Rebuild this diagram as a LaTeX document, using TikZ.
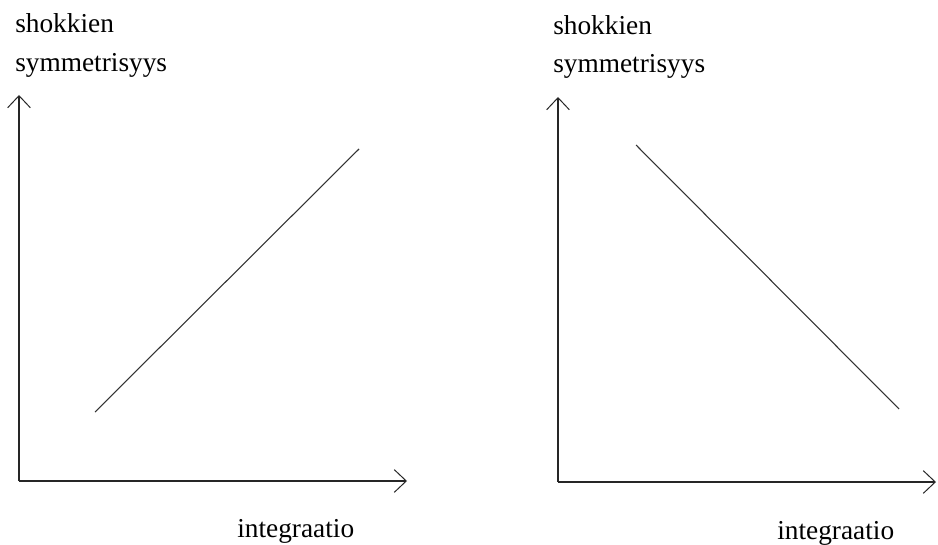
\documentclass[tikz,border=0pt]{standalone}
\usepackage{fontspec}
\setmainfont{Liberation Serif}
\usetikzlibrary{arrows.meta, positioning}

\begin{document}
\begin{tikzpicture}[
        x=0.75pt, y=-0.75pt,
        axis/.style={draw=black!85, line width=1.3pt,
            -{Straight Barb[length=9pt, width=17pt, line width=0.75pt]}},
        trend/.style={draw=black!80, line width=0.8pt},
        label/.style={inner sep=0pt, anchor=base west,
            font=\fontsize{20.5}{24}\selectfont},
    ]
    \useasboundingbox (0,0) rectangle (938,545);

    % left panel
    \coordinate (o1) at (19,481);
    \coordinate (ytip1) at (19,95);
    \coordinate (xtip1) at (407,481);
    \coordinate (lo1) at (95,412);
    \coordinate (hi1) at (359,149);
    \draw[axis] (o1) -- (ytip1);
    \draw[axis] (o1) -- (xtip1);
    \draw[trend] (lo1) -- (hi1);
    \node[label] (shok1) at (15,33) {shokkien};
    \node[label] (sym1) at (15,72) {symmetrisyys};
    \node[label] (int1) at (237,537) {integraatio};

    % right panel
    \coordinate (o2) at (558,482);
    \coordinate (ytip2) at (558,97);
    \coordinate (xtip2) at (936,482);
    \coordinate (hi2) at (636,145);
    \coordinate (lo2) at (899,409);
    \draw[axis] (o2) -- (ytip2);
    \draw[axis] (o2) -- (xtip2);
    \draw[trend] (hi2) -- (lo2);
    \node[label] (shok2) at (553,35) {shokkien};
    \node[label] (sym2) at (553,73) {symmetrisyys};
    \node[label] (int2) at (777,539) {integraatio};
\end{tikzpicture}
\end{document}
